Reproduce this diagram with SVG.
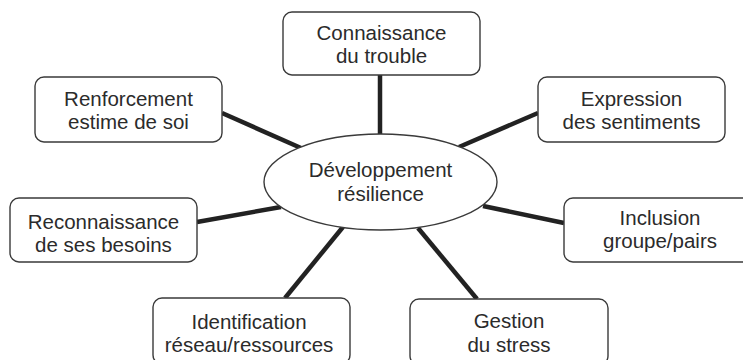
<svg xmlns="http://www.w3.org/2000/svg" width="743" height="360" viewBox="0 0 743 360">
<style>
.box{fill:#fff;stroke:#3a3a3a;stroke-width:1.4}
.t{font-family:"Liberation Sans",Arial,sans-serif;font-size:20.5px;fill:#2b2b2b;text-anchor:middle}
.c{stroke:#222;stroke-width:4.5;stroke-linecap:butt;fill:none}
</style>
<rect width="743" height="360" fill="#fff"/>
<g id="connectors">
<line class="c" x1="380" y1="75" x2="380" y2="136"/>
<line class="c" x1="222" y1="113" x2="301" y2="148"/>
<line class="c" x1="538" y1="113" x2="459" y2="147"/>
<line class="c" x1="197" y1="222" x2="281" y2="207"/>
<line class="c" x1="285" y1="298" x2="343" y2="227"/>
<line class="c" x1="564" y1="223" x2="483" y2="206"/>
<line class="c" x1="477" y1="299" x2="418" y2="228"/>
</g>
<g id="center">
<ellipse cx="380.5" cy="182" rx="116.5" ry="48" class="box"/>
<text class="t" x="380.5" y="177">Développement</text>
<text class="t" x="380.5" y="201">résilience</text>
</g>
<g id="connaissance">
<rect class="box" x="283" y="12" width="197" height="63" rx="9"/>
<text class="t" x="381.5" y="40">Connaissance</text>
<text class="t" x="381.5" y="63">du trouble</text>
</g>
<g id="renforcement">
<rect class="box" x="35" y="77" width="187" height="65" rx="9"/>
<text class="t" x="128.5" y="106">Renforcement</text>
<text class="t" x="128.5" y="129">estime de soi</text>
</g>
<g id="expression">
<rect class="box" x="538" y="77" width="187" height="65" rx="9"/>
<text class="t" x="631.5" y="106">Expression</text>
<text class="t" x="631.5" y="129">des sentiments</text>
</g>
<g id="reconnaissance">
<rect class="box" x="10" y="198" width="187" height="64" rx="9"/>
<text class="t" x="103.5" y="229">Reconnaissance</text>
<text class="t" x="103.5" y="252">de ses besoins</text>
</g>
<g id="inclusion">
<rect class="box" x="564" y="198" width="192" height="64" rx="9"/>
<text class="t" x="660" y="225">Inclusion</text>
<text class="t" x="660" y="248">groupe/pairs</text>
</g>
<g id="identification">
<rect class="box" x="153" y="298" width="197" height="66" rx="9"/>
<text class="t" x="249" y="329">Identification</text>
<text class="t" x="249" y="352">réseau/ressources</text>
</g>
<g id="gestion">
<rect class="box" x="410" y="299" width="198" height="66" rx="9"/>
<text class="t" x="509" y="328">Gestion</text>
<text class="t" x="509" y="352">du stress</text>
</g>
</svg>
